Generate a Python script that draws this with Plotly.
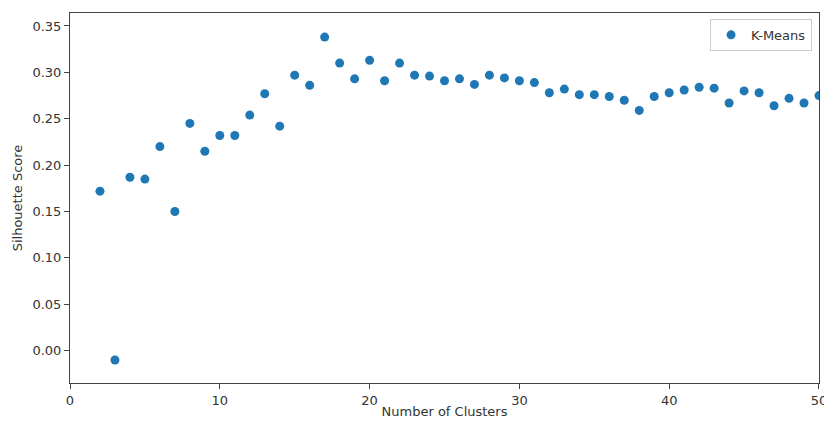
import plotly.graph_objects as go

n_clusters = list(range(2, 51))
silhouette = [0.172, -0.010, 0.187, 0.185, 0.220, 0.150, 0.245, 0.215, 0.232, 0.232,
              0.254, 0.277, 0.242, 0.297, 0.286, 0.338, 0.310, 0.293, 0.313, 0.291,
              0.310, 0.297, 0.296, 0.291, 0.293, 0.287, 0.297, 0.294, 0.291, 0.289,
              0.278, 0.282, 0.276, 0.276, 0.274, 0.270, 0.259, 0.274, 0.278, 0.281,
              0.284, 0.283, 0.267, 0.280, 0.278, 0.264, 0.272, 0.267, 0.275]
x_ticks = [0, 10, 20, 30, 40, 50]
y_ticks = [0.00, 0.05, 0.10, 0.15, 0.20, 0.25, 0.30, 0.35]

FONT = "DejaVu Sans"
TXT = "#333333"

fig = go.Figure()
fig.add_trace(go.Scatter(
    x=n_clusters, y=silhouette, mode="markers", name="K-Means",
    marker=dict(color="#1f77b4", size=9, line=dict(width=0)),
))

axis_common = dict(
    showgrid=False, zeroline=False, showline=True, linecolor="#444444", linewidth=1,
    mirror=True, ticks="outside", ticklen=5, tickwidth=1, tickcolor="#444444",
    tickfont=dict(family=FONT, size=13, color=TXT), automargin=False,
)

fig.update_layout(
    width=824, height=426,
    margin=dict(l=70, r=5, t=13, b=43),
    paper_bgcolor="white", plot_bgcolor="white",
    font=dict(family=FONT, size=13, color=TXT),
    xaxis=dict(range=[-0.0005, 50.0005], tickvals=x_ticks, ticklabeloverflow="allow",
               title=dict(text="Number of Clusters", font=dict(family=FONT, size=13, color=TXT), standoff=0),
               **axis_common),
    yaxis=dict(range=[-0.0348, 0.364], tickvals=y_ticks, tickformat=".2f",
               title=dict(text="Silhouette Score", font=dict(family=FONT, size=13, color=TXT), standoff=6),
               **axis_common),
    showlegend=True,
    legend=dict(x=0.9907, y=0.984, xanchor="right", yanchor="top",
                bgcolor="rgba(255,255,255,0.8)", bordercolor="#cccccc", borderwidth=1,
                font=dict(family=FONT, size=13, color=TXT)),
)

fig.write_html("out.html")
